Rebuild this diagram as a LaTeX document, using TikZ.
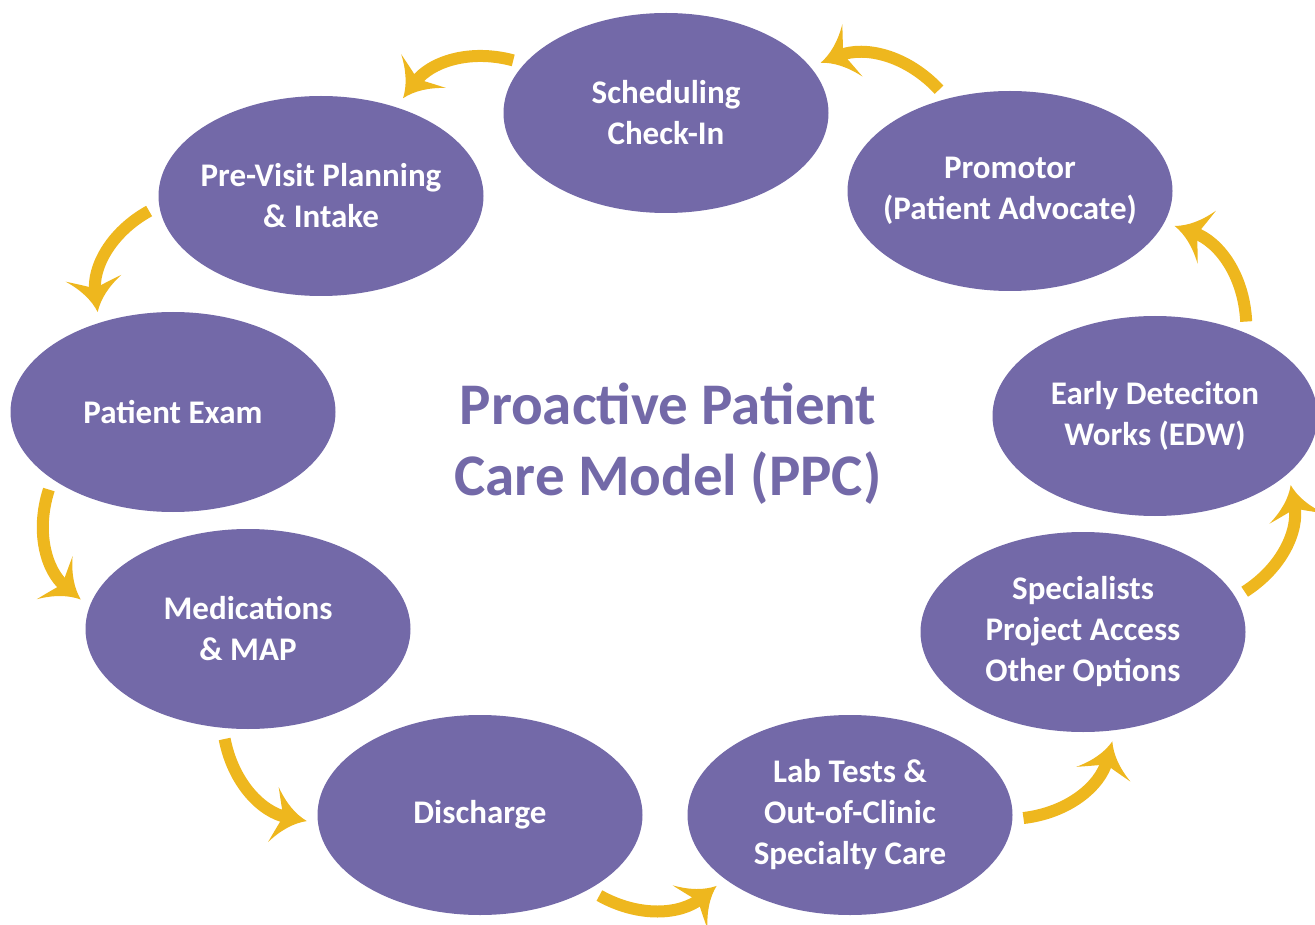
\documentclass[tikz,border=0pt]{standalone}
\usepackage{fontspec}
\setmainfont{Carlito}
\usetikzlibrary{shapes.geometric,arrows.meta}

\definecolor{ppcpurple}{HTML}{7369A8}
\definecolor{ppcgold}{HTML}{EEB71E}

% flared arrow head with concave edges
\pgfdeclarearrow{
  name = Flare,
  parameters = {\the\pgfarrowlength,\the\pgfarrowwidth},
  setup code = {
    \pgfarrowssettipend{0pt}
    \pgfarrowssetbackend{-\pgfarrowlength}
    \pgfarrowssetlineend{-.6\pgfarrowlength}
    \pgfarrowssavethe\pgfarrowlength
    \pgfarrowssavethe\pgfarrowwidth
  },
  drawing code = {
    \pgfpathmoveto{\pgfqpoint{0pt}{0pt}}
    \pgfpathquadraticcurveto{\pgfqpoint{-.55\pgfarrowlength}{.12\pgfarrowwidth}}{\pgfqpoint{-\pgfarrowlength}{.5\pgfarrowwidth}}
    \pgfpathquadraticcurveto{\pgfqpoint{-.8\pgfarrowlength}{.15\pgfarrowwidth}}{\pgfqpoint{-.7\pgfarrowlength}{0pt}}
    \pgfpathquadraticcurveto{\pgfqpoint{-.8\pgfarrowlength}{-.15\pgfarrowwidth}}{\pgfqpoint{-\pgfarrowlength}{-.5\pgfarrowwidth}}
    \pgfpathquadraticcurveto{\pgfqpoint{-.55\pgfarrowlength}{-.12\pgfarrowwidth}}{\pgfqpoint{0pt}{0pt}}
    \pgfpathclose
    \pgfusepathqfill
  },
  defaults = {length=34pt, width=56pt}
}

\tikzset{
  stage/.style={ellipse, fill=ppcpurple, text=white, minimum width=325pt,
    minimum height=200pt, inner sep=-40pt, outer sep=11pt, align=center,
    font=\bfseries\fontsize{33}{41}\selectfont},
  title/.style={text=ppcpurple, align=center, inner sep=0pt,
    font=\bfseries\fontsize{59}{71}\selectfont},
  flow/.style={draw=ppcgold, line width=12pt, -{Flare}, bend right=34}
}

\begin{document}
\begin{tikzpicture}[x=1pt,y=1pt]
\useasboundingbox (0,0) rectangle (1315,-925);

% stages of the care cycle
\node[stage] (sched) at (666,-113) {Scheduling\\Check-In};
\node[stage] (promo) at (1010,-191) {Promotor\\(Patient Advocate)};
\node[stage] (pre)   at (321,-196) {Pre-Visit Planning\\\& Intake};
\node[stage] (exam)  at (173,-412) {Patient Exam};
\node[stage] (edw)   at (1155,-416) {Early Deteciton\\Works (EDW)};
\node[stage] (meds)  at (248,-629) {Medications\\\& MAP};
\node[stage] (spec)  at (1083,-632) {Specialists\\Project Access\\Other Options};
\node[stage] (dis)   at (480,-815) {Discharge};
\node[stage] (lab)   at (850,-815) {Lab Tests \&\\Out-of-Clinic\\Specialty Care};

% centre title
\node[title] (ppc) at (668,-444) {Proactive Patient\\Care Model (PPC)};

% cycle arrows
\draw[flow] (promo.125) to (sched.18);
\draw[flow] (sched.161) to (pre.50);
\draw[flow] (pre.185)   to (exam.127);
\draw[flow] (exam.212)  to (meds.170);
\draw[flow] (meds.258)  to (dis.182);
\draw[flow] (dis.326)   to (lab.208);
\draw[flow] (lab.359)   to (spec.285);
\draw[flow] (spec.14)   to (edw.333);
\draw[flow] (edw.46)    to (promo.348);
\end{tikzpicture}
\end{document}
